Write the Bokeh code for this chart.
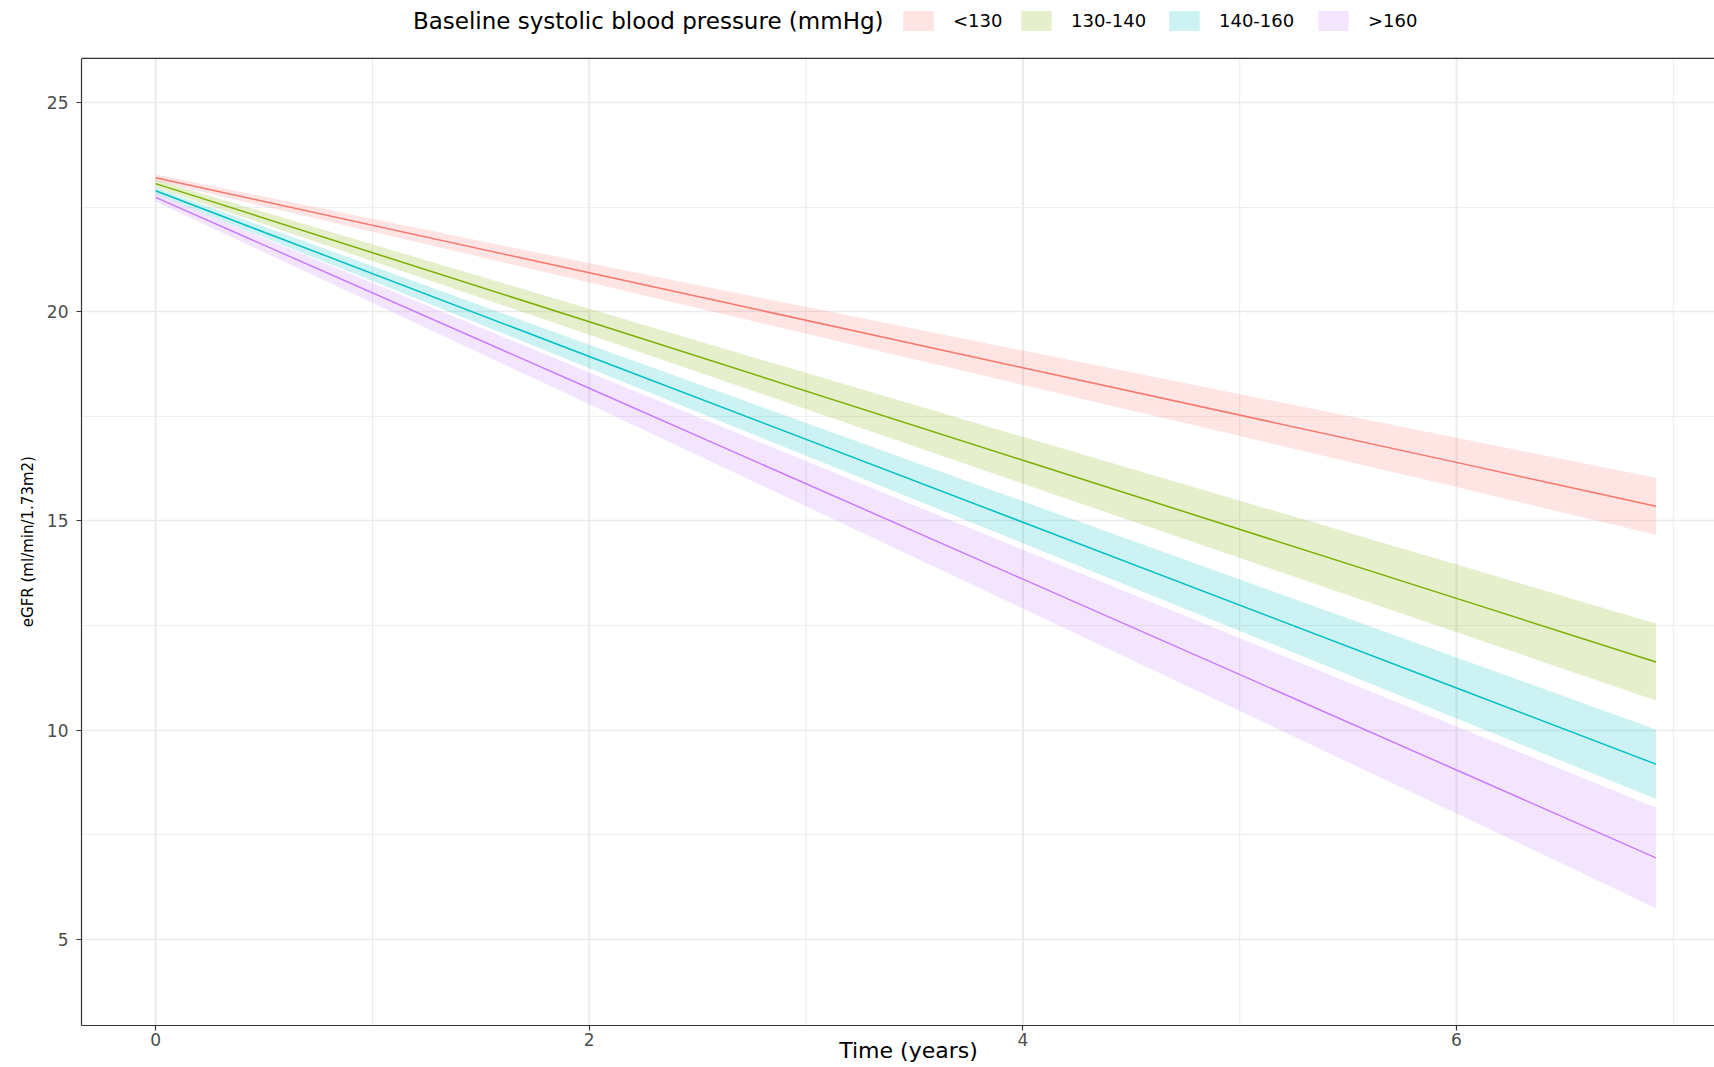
from bokeh.plotting import figure
from bokeh.models import Range1d, FixedTicker, Legend, LegendItem, Label, Span
from bokeh.embed import file_html
from bokeh.resources import INLINE

FONT = "DejaVu Sans"
NBSP = "\u00a0"

# ---- data ----
groups = ["<130", "130-140", "140-160", ">160"]
colors = ["#F8766D", "#7CAE00", "#00BFC4", "#C77CFF"]
time_years = [0, 2, 4, 6, 6.92]

mean_lt130 = [23.20, 20.93, 18.66, 16.40, 15.35]
lower_lt130 = [23.12, 20.70, 18.25, 15.81, 14.67]
upper_lt130 = [23.28, 21.16, 19.07, 16.99, 16.03]

mean_130_140 = [23.06, 19.76, 16.45, 13.15, 11.63]
lower_130_140 = [22.97, 19.45, 15.89, 12.34, 10.71]
upper_130_140 = [23.15, 20.07, 17.01, 13.96, 12.55]

mean_140_160 = [22.89, 18.93, 14.97, 11.01, 9.19]
lower_140_160 = [22.81, 18.65, 14.47, 10.28, 8.36]
upper_140_160 = [22.97, 19.21, 15.47, 11.74, 10.02]

mean_gt160 = [22.73, 18.17, 13.61, 9.05, 6.95]
lower_gt160 = [22.63, 17.79, 12.91, 8.01, 5.75]
upper_gt160 = [22.83, 18.55, 14.31, 10.09, 8.15]

means = [mean_lt130, mean_130_140, mean_140_160, mean_gt160]
lowers = [lower_lt130, lower_130_140, lower_140_160, lower_gt160]
uppers = [upper_lt130, upper_130_140, upper_140_160, upper_gt160]

x_ticks = [0, 2, 4, 6]
x_minor = [1, 3, 5, 7]
y_ticks = [5, 10, 15, 20, 25]
y_minor = [7.5, 12.5, 17.5, 22.5]

legend_title = "Baseline systolic blood pressure (mmHg)"
x_title = "Time (years)"
y_title = "eGFR (ml/min/1.73m2)"

# panel limits (ggplot-like 5% expansion) and the frame, which also holds the legend strip on top
X_START, X_END = -0.342, 7.190
Y_START, PANEL_TOP = 2.946, 26.05
Y_FRAME_TOP = 27.435

# ---- figure ----
p = figure(width=1714, height=1067, output_backend="svg", toolbar_location=None,
           x_range=Range1d(X_START, X_END), y_range=Range1d(Y_START, Y_FRAME_TOP),
           min_border_left=81, min_border_right=0, min_border_top=0, min_border_bottom=42,
           background_fill_color="white", border_fill_color="white")
p.outline_line_color = None
p.title.text = ""
p.title.standoff = 0
p.title.visible = False

xt = FixedTicker(ticks=x_ticks, minor_ticks=x_minor)
yt = FixedTicker(ticks=y_ticks, minor_ticks=y_minor)
p.below[0].ticker = xt
p.left[0].ticker = yt
p.ygrid.ticker = yt
p.xgrid.visible = False

p.ygrid.grid_line_color = "#EBEBEB"
p.ygrid.grid_line_width = 1.3
p.ygrid.minor_grid_line_color = "#EBEBEB"
p.ygrid.minor_grid_line_width = 0.8

for ax in [p.below[0], p.left[0]]:
    ax.axis_line_color = "#333333"
    ax.axis_line_width = 1.2
    ax.major_tick_line_color = "#333333"
    ax.major_tick_line_width = 1.2
    ax.major_tick_out = 5
    ax.major_tick_in = 0
    ax.minor_tick_line_color = None
    ax.major_label_text_font = FONT
    ax.major_label_text_font_size = "17px"
    ax.major_label_text_color = "#4D4D4D"
    ax.axis_label_text_font = FONT
    ax.axis_label_text_font_style = "normal"
    ax.axis_label_text_color = "black"

# x title: a few leading no-break spaces nudge it right, under the panel's centre
p.below[0].major_label_standoff = 2
p.below[0].axis_label = NBSP * 3 + x_title
p.below[0].axis_label_text_font_size = "22px"
p.below[0].axis_label_standoff = -11

# y title: trailing no-break spaces centre it on the panel rather than on the whole frame
p.left[0].bounds = (Y_START, PANEL_TOP)
p.left[0].major_label_standoff = 8
p.left[0].axis_label = y_title + NBSP * 12
p.left[0].axis_label_text_font_size = "15px"
p.left[0].axis_label_standoff = 7

# vertical grid lines, limited to the panel
p.segment(x0=x_minor, y0=[Y_START] * len(x_minor), x1=x_minor, y1=[PANEL_TOP] * len(x_minor),
          line_color="#EBEBEB", line_width=1)
p.segment(x0=x_ticks, y0=[Y_START] * len(x_ticks), x1=x_ticks, y1=[PANEL_TOP] * len(x_ticks),
          line_color="#EBEBEB", line_width=2)

# top border of the panel
p.add_layout(Span(location=PANEL_TOP, dimension="width", line_color="#333333", line_width=1.2))

# ---- ribbons and lines ----
band_renderers = []
for g, c, lo, up in zip(groups, colors, lowers, uppers):
    r = p.varea(x=time_years, y1=lo, y2=up, fill_color=c, fill_alpha=0.2)
    band_renderers.append(r)
for g, c, m in zip(groups, colors, means):
    p.line(x=time_years, y=m, line_color=c, line_width=1.5)

# ---- legend strip above the panel ----
legend_x = [818, 936, 1084, 1233]   # screen offsets of each key from the frame's left edge
for g, r, lx in zip(groups, band_renderers, legend_x):
    lg = Legend(items=[LegendItem(label=g, renderers=[r])], location=(lx, 992),
                orientation="horizontal", padding=0, margin=0, spacing=0,
                glyph_width=38, glyph_height=25, label_height=25, label_standoff=16,
                border_line_color=None, background_fill_alpha=0,
                label_text_font=FONT, label_text_font_size="18px", label_text_color="black")
    p.add_layout(lg, "center")

p.add_layout(Label(x=802, y=1004.5, x_units="screen", y_units="screen", text=legend_title,
                   text_align="right", text_baseline="middle", text_font=FONT,
                   text_font_size="23px", text_color="black"))

open("out.html", "w").write(file_html(p, INLINE))
